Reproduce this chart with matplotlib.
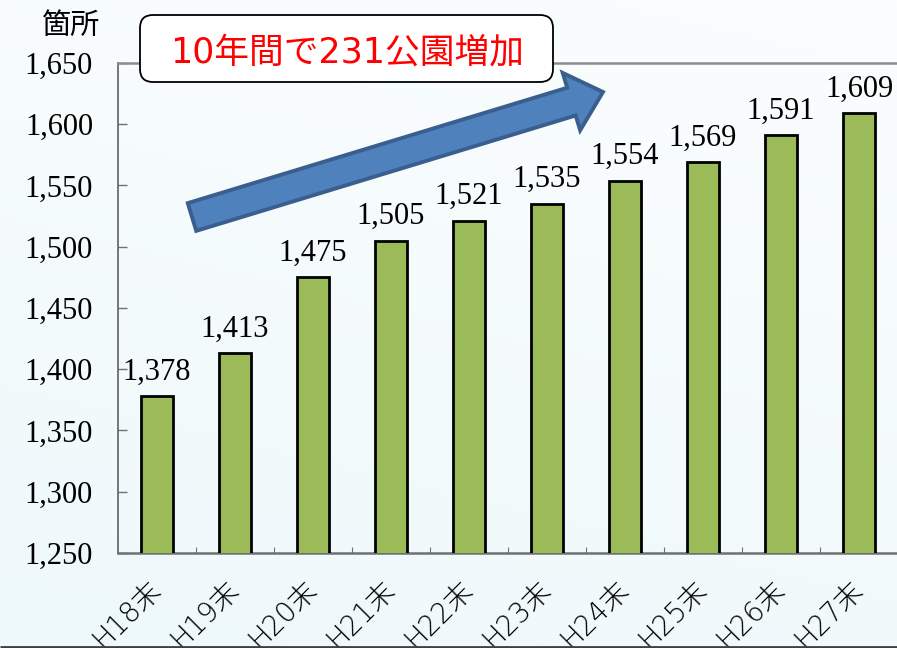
import numpy as np
import matplotlib
matplotlib.use("Agg")
import matplotlib.pyplot as plt
from matplotlib.patches import FancyArrow, FancyBboxPatch
from matplotlib.ticker import FixedLocator, FuncFormatter
from matplotlib.colors import LinearSegmentedColormap

categories = ["H18末", "H19末", "H20末", "H21末", "H22末", "H23末", "H24末", "H25末", "H26末", "H27末"]
values = [1378, 1413, 1475, 1505, 1521, 1535, 1554, 1569, 1591, 1609]
y_ticks = [1250, 1300, 1350, 1400, 1450, 1500, 1550, 1600, 1650]
unit_label = "箇所"
headline = "10年間で231公園増加"

W, H = 897, 648
fig = plt.figure(figsize=(W / 100, H / 100), dpi=100)

# background gradient
bg = fig.add_axes([0, 0, 1, 1], zorder=-10)
cmap = LinearSegmentedColormap.from_list("bg", ["#fbfdfe", "#eef9fb"])
yy, xx = np.mgrid[0:1:200j, 0:1:200j]
grad = 0.75 * yy + 0.25 * (1 - xx)
bg.imshow(grad, cmap=cmap, aspect="auto", extent=[0, 1, 1, 0], vmin=0, vmax=1)
bg.set_axis_off()

# main axes
left = 118 / W
bottom = (H - 553) / H
height = (553 - 63) / H
width = 780 / W
ax = fig.add_axes([left, bottom, width, height])
ax.set_facecolor("none")

x = np.arange(len(categories))
ax.bar(x, values, width=0.4, color="#9bbb59", edgecolor="black", linewidth=2.0, zorder=3)
ax.set_xlim(-0.5, len(categories) - 0.5)
ax.set_ylim(y_ticks[0], y_ticks[-1])

serif = ["Liberation Serif", "DejaVu Serif"]
jp = ["Noto Sans CJK JP", "DejaVu Sans"]
mixed = ["DejaVu Sans", "Noto Sans CJK JP"]

ax.yaxis.set_major_locator(FixedLocator(y_ticks))
ax.yaxis.set_major_formatter(FuncFormatter(lambda v, p: f"{int(v):,}"))
ax.tick_params(axis="y", direction="in", length=6.5, width=1.0, color="#707070", pad=18,
               labelsize=22)
for lab in ax.get_yticklabels():
    lab.set_fontfamily(serif)

ax.set_xticks(x)
ax.set_xticklabels(categories)
ax.xaxis.set_minor_locator(FixedLocator(np.arange(0.5, len(categories) - 0.5, 1.0)))
ax.tick_params(axis="x", which="major", length=0, pad=23)
ax.tick_params(axis="x", which="minor", direction="in", length=4, width=0.8, color="#707070")
for lab in ax.get_xticklabels():
    lab.set_fontfamily(mixed)
    lab.set_fontsize(20)
    lab.set_fontweight("light")
    lab.set_rotation(45)
    lab.set_rotation_mode("anchor")
    lab.set_ha("right")
    lab.set_va("center")

ax.spines["right"].set_visible(False)
ax.spines["top"].set_color("#8c8c8c")
ax.spines["top"].set_linewidth(1.8)
ax.spines["left"].set_color("#606060")
ax.spines["left"].set_linewidth(1.2)
ax.spines["bottom"].set_color("#707070")
ax.spines["bottom"].set_linewidth(1.8)

for xi, v in zip(x, values):
    ax.annotate(f"{v:,}", (xi, v), xytext=(0, 7), textcoords="offset points",
                ha="center", va="bottom", fontsize=22, fontfamily=serif, color="black", zorder=4)

# overlay in pixel coordinates
ov = fig.add_axes([0, 0, 1, 1], zorder=5)
ov.set_xlim(0, W)
ov.set_ylim(H, 0)
ov.set_axis_off()
ov.patch.set_alpha(0)

tail = (192, 217)
tip = (603, 92)
arrow = FancyArrow(tail[0], tail[1], tip[0] - tail[0], tip[1] - tail[1], width=29,
                   head_width=60, head_length=33, length_includes_head=True,
                   facecolor="#4f81bd", edgecolor="#3a5f8e", linewidth=2.8, joinstyle="miter")
ov.add_patch(arrow)

box = FancyBboxPatch((140, 15), 413, 67, boxstyle="round,pad=0,rounding_size=13",
                     facecolor="white", edgecolor="black", linewidth=1.3)
ov.add_patch(box)
ov.text(347, 52, headline, ha="center", va="center", fontsize=25, color="#ff0000",
        fontfamily=mixed)

ov.text(71, 26, unit_label, ha="center", va="center", fontsize=21, color="black",
        fontfamily=jp)

ov.plot([0, W], [646.5, 646.5], color="#404040", linewidth=2.0, solid_capstyle="butt")

fig.savefig("out.png", dpi=100)
